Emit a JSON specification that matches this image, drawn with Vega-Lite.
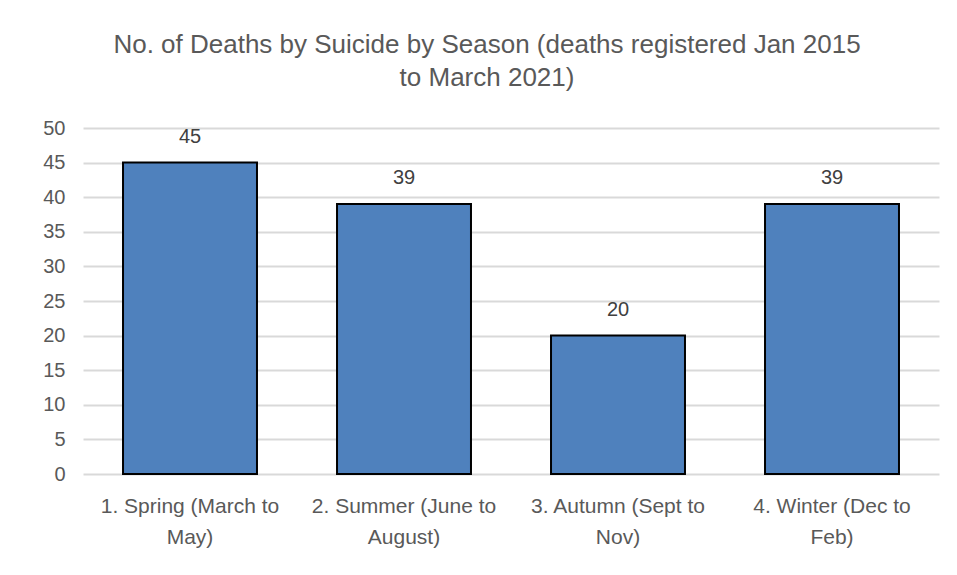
{
  "$schema": "https://vega.github.io/schema/vega-lite/v6.json",
  "autosize": {"type": "none"},
  "width": 856,
  "height": 346,
  "padding": {"left": 83, "top": 128, "right": 18, "bottom": 101},
  "background": "white",
  "config": {
    "view": {"stroke": null},
    "font": "Liberation Sans, sans-serif"
  },
  "title": {
    "text": ["No. of Deaths by Suicide by Season (deaths registered Jan 2015", "to March 2021)"],
    "fontSize": 26,
    "fontWeight": "normal",
    "color": "#595959",
    "font": "Liberation Sans, sans-serif",
    "lineHeight": 33,
    "offset": 27,
    "dx": -24,
    "anchor": "middle"
  },
  "data": {
    "values": [
      {"season": "1. Spring (March to May)", "deaths": 45},
      {"season": "2. Summer (June to August)", "deaths": 39},
      {"season": "3. Autumn (Sept to Nov)", "deaths": 20},
      {"season": "4. Winter (Dec to Feb)", "deaths": 39}
    ]
  },
  "encoding": {
    "x": {
      "field": "season",
      "type": "nominal",
      "sort": null,
      "scale": {"paddingInner": 0.374, "paddingOuter": 0.187},
      "axis": {
        "title": null,
        "labelAngle": 0,
        "labelFontSize": 21,
        "labelColor": "#595959",
        "labelPadding": 21,
        "labelLineHeight": 31,
        "labelLimit": 400,
        "labelOverlap": false,
        "labelExpr": "[substring(datum.label, 0, indexof(datum.label, ' to ') + 3), substring(datum.label, indexof(datum.label, ' to ') + 4)]",
        "ticks": false,
        "domain": false,
        "grid": false
      }
    },
    "y": {
      "field": "deaths",
      "type": "quantitative",
      "scale": {"domain": [0, 50]},
      "axis": {
        "title": null,
        "values": [0, 5, 10, 15, 20, 25, 30, 35, 40, 45, 50],
        "labelFontSize": 20,
        "labelColor": "#595959",
        "labelPadding": 18,
        "ticks": false,
        "domain": false,
        "gridColor": "#d9d9d9",
        "gridWidth": 2
      }
    }
  },
  "layer": [
    {
      "mark": {"type": "bar", "color": "#4F81BD", "stroke": "black", "strokeWidth": 2}
    },
    {
      "mark": {"type": "text", "dy": -26, "fontSize": 20, "color": "#404040", "font": "Liberation Sans, sans-serif"},
      "encoding": {"text": {"field": "deaths", "type": "quantitative"}}
    }
  ]
}
